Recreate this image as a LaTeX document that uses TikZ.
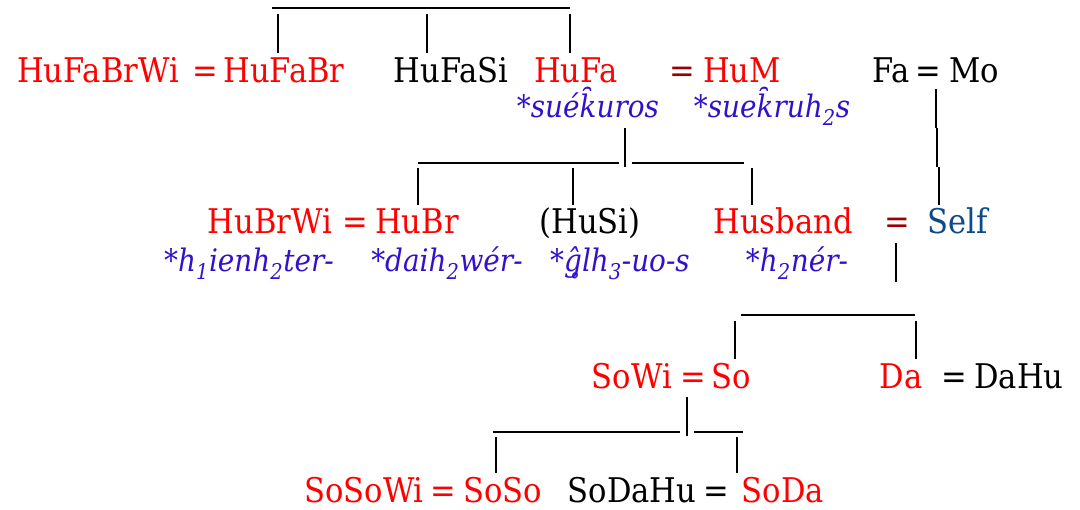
\documentclass[tikz,border=0pt]{standalone}
\usepackage{fontspec}
\setmainfont{DejaVu Serif}[FakeStretch=0.9]
\definecolor{kinred}{HTML}{FF0000}
\definecolor{eqred}{HTML}{990000}
\definecolor{pie}{HTML}{3311CC}
\definecolor{selfblue}{HTML}{0B4A8B}
\begin{document}
\begin{tikzpicture}[x=1pt,y=-1pt,
  txt/.style={anchor=base, inner sep=0pt, font=\fontsize{34}{34}\selectfont},
  rd/.style={txt, text=kinred},
  bk/.style={txt, text=black},
  dr/.style={txt, text=eqred},
  sf/.style={txt, text=selfblue},
  pr/.style={anchor=base, inner sep=0pt, text=pie, font=\fontsize{31}{31}\selectfont\itshape},
  ln/.style={line width=1.9pt, black}]
\useasboundingbox (0,0) rectangle (1080,510);
% ---- row 1
\node[rd] (hufabrwi) at (98,83) {HuFaBrWi};
\node[rd] (eqA) at (205,83) {=};
\node[rd] (hufabr) at (284,83) {HuFaBr};
\node[bk] (hufasi) at (451,83) {HuFaSi};
\node[rd] (hufa) at (576,83) {HuFa};
\node[dr] (eqB) at (682,83) {=};
\node[rd] (hum) at (742,83) {HuM};
\node[bk] (fa) at (891,83) {Fa};
\node[bk] (eqC) at (928,83) {=};
\node[bk] (mo) at (974,83) {Mo};
\node[pr] (suekuros) at (588,118) {*suék^^^^0311uros};
\node[pr] (suekruhs) at (772,118) {*suek^^^^0311ruh\textsubscript{2}s};
% ---- row 2
\node[rd] (hubrwi) at (270,234) {HuBrWi};
\node[rd] (eqD) at (355,234) {=};
\node[rd] (hubr) at (417,234) {HuBr};
\node[bk] (husi) at (590,234) {(HuSi)};
\node[rd] (husband) at (783,234) {Husband};
\node[dr] (eqE) at (897,234) {=};
\node[sf] (self) at (958,234) {Self};
\node[pr] (ienhter) at (249,272) {*h\textsubscript{1}ienh\textsubscript{2}ter-};
\node[pr] (daihwer) at (447,272) {*daih\textsubscript{2}wér-};
\node[pr] (glhuos) at (620,272) {*ĝ^^^^0325lh\textsubscript{3}-uo-s};
\node[pr] (hner) at (797,272) {*h\textsubscript{2}nér-};
% ---- row 3
\node[rd] (sowi) at (632,389) {SoWi};
\node[rd] (eqF) at (693,389) {=};
\node[rd] (so) at (731,389) {So};
\node[rd] (da) at (901,389) {Da};
\node[bk] (eqG) at (954,389) {=};
\node[bk] (dahu) at (1019,389) {DaHu};
% ---- row 4
\node[rd] (sosowi) at (364,503) {SoSoWi};
\node[rd] (eqH) at (443,503) {=};
\node[rd] (soso) at (503,503) {SoSo};
\node[bk] (sodahu) at (632,503) {SoDaHu};
\node[bk] (eqI) at (716,503) {=};
\node[rd] (soda) at (783,503) {SoDa};
% ---- connector coordinates
\coordinate (topL) at (272,8);
\coordinate (topR) at (570,8);
\coordinate (v1a) at (278,14);  \coordinate (v1b) at (278,53);
\coordinate (v2a) at (427,14);  \coordinate (v2b) at (427,53);
\coordinate (v3a) at (570,14);  \coordinate (v3b) at (570,53);
\coordinate (hfa) at (625,128); \coordinate (hfb) at (625,167);
\coordinate (m1L) at (418,163); \coordinate (m1R) at (619,163);
\coordinate (m2L) at (632,163); \coordinate (m2R) at (744,163);
\coordinate (c1a) at (418,168); \coordinate (c1b) at (418,205);
\coordinate (c2a) at (573,168); \coordinate (c2b) at (573,205);
\coordinate (c3a) at (752,168); \coordinate (c3b) at (752,205);
\coordinate (moA) at (936,89);  \coordinate (moB) at (936,128);
\coordinate (moC) at (937,128); \coordinate (moD) at (937,167);
\coordinate (moE) at (939,167); \coordinate (moF) at (939,205);
\coordinate (sva) at (896,243); \coordinate (svb) at (896,282);
\coordinate (b3L) at (741,315); \coordinate (b3R) at (915,315);
\coordinate (d1a) at (735,321); \coordinate (d1b) at (735,359);
\coordinate (d2a) at (916,321); \coordinate (d2b) at (916,359);
\coordinate (swa) at (687,397); \coordinate (swb) at (687,436);
\coordinate (b4L) at (493,432); \coordinate (b4M) at (680,432);
\coordinate (b4N) at (694,432); \coordinate (b4R) at (743,432);
\coordinate (e1a) at (496,437); \coordinate (e1b) at (496,473);
\coordinate (e2a) at (737,437); \coordinate (e2b) at (737,473);
% ---- connectors
\draw[ln] (topL) -- (topR);
\draw[ln] (v1a) -- (v1b);
\draw[ln] (v2a) -- (v2b);
\draw[ln] (v3a) -- (v3b);
\draw[ln] (hfa) -- (hfb);
\draw[ln] (m1L) -- (m1R);
\draw[ln] (m2L) -- (m2R);
\draw[ln] (c1a) -- (c1b);
\draw[ln] (c2a) -- (c2b);
\draw[ln] (c3a) -- (c3b);
\draw[ln] (moA) -- (moB);
\draw[ln] (moC) -- (moD);
\draw[ln] (moE) -- (moF);
\draw[ln] (sva) -- (svb);
\draw[ln] (b3L) -- (b3R);
\draw[ln] (d1a) -- (d1b);
\draw[ln] (d2a) -- (d2b);
\draw[ln] (swa) -- (swb);
\draw[ln] (b4L) -- (b4M);
\draw[ln] (b4N) -- (b4R);
\draw[ln] (e1a) -- (e1b);
\draw[ln] (e2a) -- (e2b);
\end{tikzpicture}
\end{document}
